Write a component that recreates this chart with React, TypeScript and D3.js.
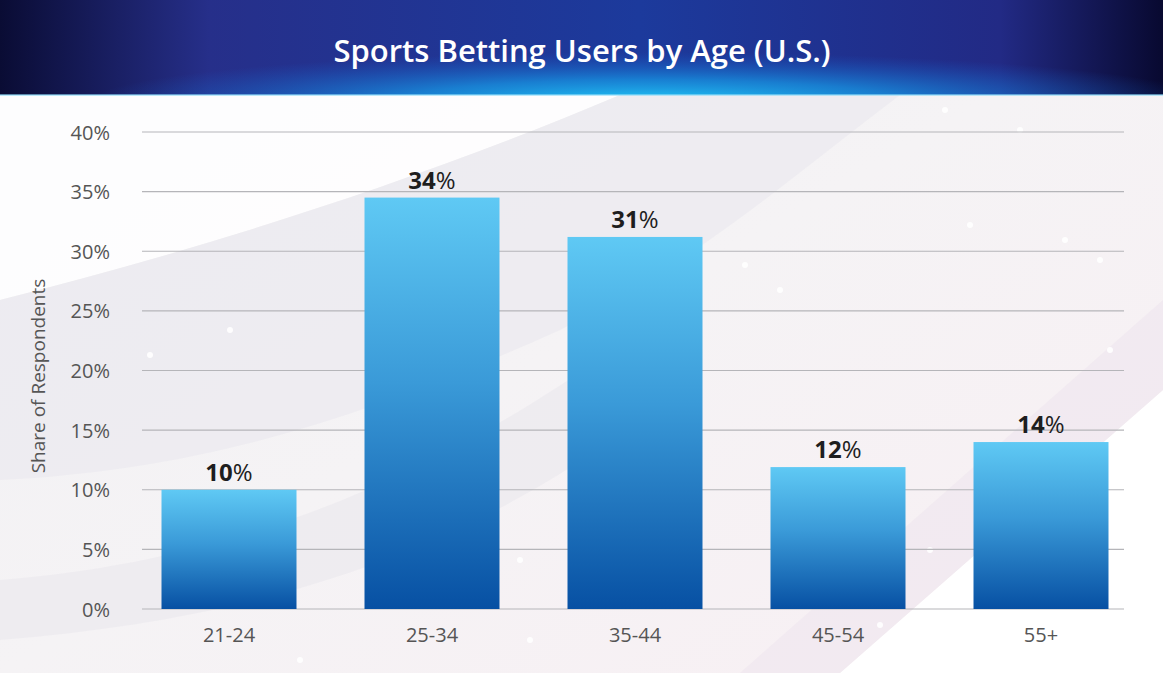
import React from "react";
import * as d3 from "d3";

const categories = ["21-24", "25-34", "35-44", "45-54", "55+"];
const values = [10, 34.5, 31.2, 11.9, 14];
const valueLabels = ["10", "34", "31", "12", "14"];
const yTicks = [0, 5, 10, 15, 20, 25, 30, 35, 40];
const title = "Sports Betting Users by Age (U.S.)";
const yTitle = "Share of Respondents";

const W = 1163;
const H = 673;
const FONT = "'Open Sans', sans-serif";

export default function App() {
  const x = d3
    .scaleBand<string>()
    .domain(categories)
    .range([127.5, 1142.5])
    .paddingInner(0.335)
    .paddingOuter(0.1675);
  const y = d3.scaleLinear().domain([0, 40]).range([609, 132]);

  const dots = [[945,110],[1020,130],[970,225],[1065,240],[1100,260],[1110,350],[745,265],[780,290],[610,390],[670,415],[930,550],[1000,590],[1040,640],[880,625],[150,355],[230,330],[300,660],[530,640],[520,560]];
  return (
    <div style={{ position: "absolute", left: 0, top: 0 }}>
      <svg width={W} height={H} style={{ display: "block" }}>
        <defs>
          <linearGradient id="bar" x1="0" y1="0" x2="0" y2="1">
            <stop offset="0%" stopColor="#5fc9f4" />
            <stop offset="45%" stopColor="#3a9ad8" />
            <stop offset="100%" stopColor="#0750a3" />
          </linearGradient>
          <linearGradient id="hdr" x1="0" y1="0" x2="1" y2="0">
            <stop offset="0%" stopColor="#0a0c34" />
            <stop offset="18%" stopColor="#262f8a" />
            <stop offset="55%" stopColor="#1c3a9c" />
            <stop offset="86%" stopColor="#222a85" />
            <stop offset="100%" stopColor="#080930" />
          </linearGradient>
          <radialGradient id="glow" cx="0.5" cy="0.5" r="0.5">
            <stop offset="0%" stopColor="#22cdf9" stopOpacity="1" />
            <stop offset="45%" stopColor="#1796e4" stopOpacity="0.75" />
            <stop offset="100%" stopColor="#1760d0" stopOpacity="0" />
          </radialGradient>
          <linearGradient id="bg" x1="0" y1="0" x2="1" y2="1">
            <stop offset="0%" stopColor="#f0f0f3" />
            <stop offset="50%" stopColor="#f5f3f5" />
            <stop offset="100%" stopColor="#f8eff3" />
          </linearGradient>
          <clipPath id="hclip">
            <rect x={0} y={0} width={W} height={95} />
          </clipPath>
        </defs>
        <rect x={0} y={0} width={W} height={H} fill="url(#bg)" />
        <path d="M0,300 C200,250 420,180 620,95 L0,95 Z" fill="#ffffff" opacity={0.85} />
        <path d="M0,480 C200,470 360,420 560,330 C700,260 800,170 900,95 L620,95 C420,180 200,250 0,300 Z" fill="#e9e8ee" opacity={0.6} />
        <path d="M0,580 C250,560 450,470 640,330 L640,420 C450,560 250,620 0,640 Z" fill="#e6e5ec" opacity={0.45} />
        <path d="M840,673 L1163,390 L1163,673 Z" fill="#ffffff" />
        <path d="M740,673 L1163,300 L1163,390 L840,673 Z" fill="#efe6ee" opacity={0.6} />
        {dots.map((p, i) => (
          <circle key={i} cx={p[0]} cy={p[1]} r={3} fill="#ffffff" opacity={0.9} />
        ))}

        <g clipPath="url(#hclip)">
          <rect x={0} y={0} width={W} height={95} fill="url(#hdr)" />
          <ellipse cx={650} cy={102} rx={560} ry={50} fill="url(#glow)" />
        </g>
        <rect x={0} y={94} width={W} height={2} fill="#8fdcf8" opacity={0.6} />
        <text x={582} y={62} textAnchor="middle" fill="#ffffff" fontFamily={FONT} fontWeight={600} fontSize={31}>
          {title}
        </text>

        {yTicks.map((t) => (
          <g key={t}>
            <line x1={142} x2={1124} y1={y(t)} y2={y(t)} stroke="#b5b5b9" strokeWidth={1.2} />
            <text x={110} y={y(t) + 7.5} textAnchor="end" fill="#555" fontFamily={FONT} fontSize={20}>
              {t}%
            </text>
          </g>
        ))}
        <text transform={`translate(45,376) rotate(-90)`} textAnchor="middle" fill="#555" fontFamily={FONT} fontSize={19}>
          {yTitle}
        </text>

        {categories.map((c, i) => (
          <g key={c}>
            <rect x={x(c)} y={y(values[i])} width={x.bandwidth()} height={y(0) - y(values[i])} fill="url(#bar)" />
            <text
              x={(x(c) as number) + x.bandwidth() / 2}
              y={y(values[i]) - 9}
              textAnchor="middle"
              fill="#1e1e1e"
              fontFamily={FONT}
              fontSize={24}
            >
              <tspan fontWeight={700}>{valueLabels[i]}</tspan>
              <tspan fontWeight={400}>%</tspan>
            </text>
            <text x={(x(c) as number) + x.bandwidth() / 2} y={642} textAnchor="middle" fill="#555" fontFamily={FONT} fontSize={20}>
              {c}
            </text>
          </g>
        ))}
      </svg>
    </div>
  );
}
